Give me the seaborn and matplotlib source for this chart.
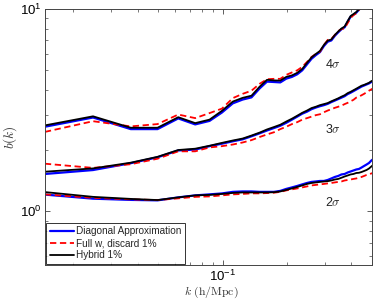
import numpy as np
import pandas as pd
import seaborn as sns
import matplotlib
matplotlib.use("Agg")
import matplotlib.pyplot as plt

# k bins (h/Mpc)
k = [0.0147] + [round(0.0247 + 0.0124 * m, 4) for m in range(40)]

# 4 sigma
diag_4 = [2.62, 2.91, 2.55, 2.55, 2.88, 2.69, 2.80, 3.08, 3.42, 3.57, 3.66, 4.05, 4.38, 4.36,
          4.34, 4.53, 4.62, 4.76, 4.98, 5.33, 5.68, 5.92, 6.13, 6.57, 6.90, 7.00, 7.38, 7.68,
          7.95, 8.13, 8.66, 9.17, 9.38, 9.60, 9.93, 10.3, 10.7, 11.1, 11.5, 11.9, 12.3]
full_4 = [2.47, 2.79, 2.63, 2.70, 3.01, 2.89, 3.06, 3.22, 3.63, 3.81, 3.95, 4.27, 4.50, 4.52,
          4.52, 4.73, 4.86, 4.98, 5.18, 5.48, 5.80, 6.00, 6.16, 6.65, 7.04, 7.12, 7.45, 7.79,
          7.97, 8.03, 8.53, 9.03, 9.34, 9.52, 9.89, 10.3, 10.7, 11.1, 11.5, 11.9, 12.3]
hyb_4 = [2.66, 2.95, 2.59, 2.59, 2.92, 2.73, 2.84, 3.14, 3.49, 3.64, 3.73, 4.13, 4.47, 4.44,
         4.43, 4.62, 4.70, 4.84, 5.06, 5.42, 5.77, 6.00, 6.21, 6.65, 6.98, 7.08, 7.45, 7.75,
         8.02, 8.20, 8.73, 9.24, 9.45, 9.67, 10.0, 10.4, 10.8, 11.2, 11.6, 12.0, 12.4]

# 3 sigma
diag_3 = [1.53, 1.60, 1.73, 1.85, 2.00, 2.02, 2.10, 2.16, 2.22, 2.27, 2.35, 2.43, 2.51, 2.58,
          2.65, 2.74, 2.84, 2.94, 3.04, 3.11, 3.20, 3.26, 3.31, 3.35, 3.40, 3.47, 3.53, 3.59,
          3.65, 3.71, 3.80, 3.86, 3.93, 4.00, 4.07, 4.14, 4.19, 4.24, 4.29, 4.36, 4.41]
full_3 = [1.72, 1.64, 1.71, 1.82, 1.98, 1.98, 2.07, 2.10, 2.14, 2.19, 2.25, 2.33, 2.40, 2.46,
          2.55, 2.62, 2.70, 2.76, 2.84, 2.89, 2.94, 2.99, 3.02, 3.09, 3.15, 3.20, 3.25, 3.29,
          3.33, 3.39, 3.44, 3.50, 3.56, 3.65, 3.69, 3.75, 3.81, 3.88, 3.95, 4.01, 4.07]
hyb_3 = [1.57, 1.63, 1.74, 1.86, 2.01, 2.04, 2.11, 2.18, 2.24, 2.29, 2.37, 2.45, 2.54, 2.61,
         2.68, 2.78, 2.87, 2.97, 3.07, 3.15, 3.24, 3.29, 3.35, 3.39, 3.43, 3.50, 3.56, 3.62,
         3.69, 3.75, 3.84, 3.90, 3.97, 4.04, 4.11, 4.18, 4.22, 4.27, 4.32, 4.40, 4.45]

# 2 sigma
diag_2 = [1.21, 1.155, 1.139, 1.133, 1.172, 1.199, 1.213, 1.226, 1.248, 1.254, 1.254, 1.248,
          1.248, 1.248, 1.262, 1.291, 1.313, 1.335, 1.359, 1.381, 1.398, 1.405, 1.413, 1.413,
          1.429, 1.454, 1.479, 1.496, 1.522, 1.530, 1.556, 1.574, 1.592, 1.610, 1.620, 1.647,
          1.676, 1.704, 1.734, 1.783, 1.818]
full_2 = [1.213, 1.166, 1.146, 1.137, 1.159, 1.179, 1.185, 1.199, 1.213, 1.219, 1.227, 1.227,
          1.231, 1.236, 1.248, 1.269, 1.284, 1.298, 1.313, 1.328, 1.343, 1.351, 1.359, 1.366,
          1.374, 1.381, 1.390, 1.398, 1.405, 1.421, 1.429, 1.437, 1.446, 1.454, 1.466, 1.479,
          1.496, 1.513, 1.522, 1.539, 1.551]
hyb_2 = [1.245, 1.179, 1.152, 1.137, 1.172, 1.199, 1.206, 1.219, 1.233, 1.240, 1.240, 1.240,
         1.240, 1.243, 1.254, 1.276, 1.298, 1.320, 1.343, 1.366, 1.381, 1.390, 1.398, 1.405,
         1.410, 1.421, 1.437, 1.446, 1.466, 1.487, 1.504, 1.522, 1.530, 1.547, 1.551, 1.565,
         1.583, 1.601, 1.628, 1.666, 1.704]

labels = ['Diagonal Approximation', 'Full w, discard 1%', 'Hybrid 1%']
sigma_labels = [r'4$\sigma$', r'3$\sigma$', r'2$\sigma$']
label_pos_k = [0.328, 0.328, 0.327]
label_pos_b = [5.3, 2.53, 1.10]

sns.set_style("ticks")
plt.rcParams['font.family'] = ['Liberation Sans', 'DejaVu Sans']
plt.rcParams['mathtext.fontset'] = 'cm'
plt.rcParams['xtick.direction'] = 'in'
plt.rcParams['ytick.direction'] = 'in'

fig = plt.figure(figsize=(3.77, 3.03), dpi=100)
ax = fig.add_axes([0.119, 0.125, 0.868, 0.845])

styles = [dict(color='#0000ff', linewidth=1.6, linestyle='-'),
          dict(color='#ff0000', linewidth=1.3, linestyle=(0, (3.5, 2))),
          dict(color='black', linewidth=1.3, linestyle='-')]

groups = [(diag_4, full_4, hyb_4), (diag_3, full_3, hyb_3), (diag_2, full_2, hyb_2)]
for gi, grp in enumerate(groups):
    for si, vals in enumerate(grp):
        df = pd.DataFrame({'k': k, 'b': vals})
        sns.lineplot(data=df, x='k', y='b', ax=ax,
                     label=labels[si] if gi == 0 else None, **styles[si])

for txt, xk, yb in zip(sigma_labels, label_pos_k, label_pos_b):
    ax.text(xk, yb, txt, fontsize=9, ha='center', va='center', color='#222222')

ax.set_xscale('log')
ax.set_yscale('log')
ax.set_xlim(0.0147, 0.5)
ax.set_ylim(0.542, 10)
ax.tick_params(which='both', top=True, right=True, labelsize=9.5, colors='#444444',
               labelcolor='black')
ax.tick_params(which='major', length=3.5, width=0.6, pad=2)
ax.tick_params(axis='x', which='major', pad=2.5)
ax.tick_params(which='minor', length=2, width=0.5)
for sp in ax.spines.values():
    sp.set_linewidth(0.7)
    sp.set_color('#444444')

ax.set_xlabel(r'$k\ \mathrm{(h/Mpc)}$', fontsize=8.5, color='#333333')
ax.xaxis.set_label_coords(0.51, -0.078)
ax.set_ylabel(r'$b(k)$', fontsize=9.5, labelpad=1, color='#333333')

leg = ax.legend(loc='lower left', fontsize=7.2, frameon=True, fancybox=False,
                handlelength=2.4, borderpad=0.35, labelspacing=0.2, handletextpad=0.25,
                borderaxespad=0.15)
leg.get_frame().set_edgecolor('black')
leg.get_frame().set_linewidth(0.7)

plt.savefig('out.png', dpi=100)
